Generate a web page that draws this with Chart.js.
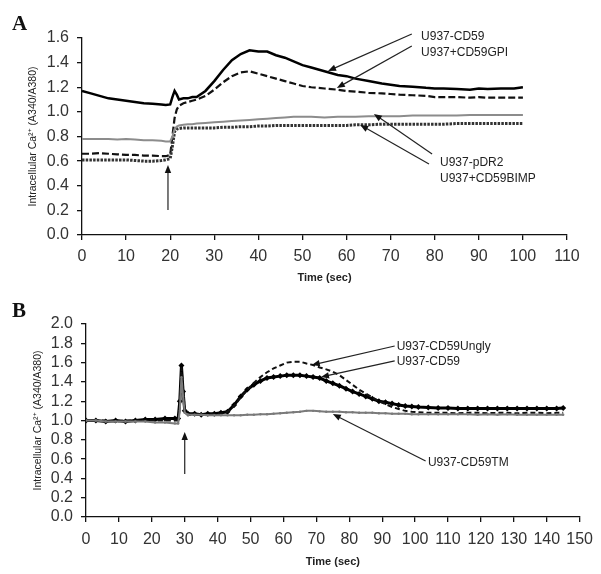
<!DOCTYPE html>
<html>
<head>
<meta charset="utf-8">
<script src="https://cdn.jsdelivr.net/npm/chart.js@4/dist/chart.umd.min.js"></script>
<style>
  html, body { margin: 0; padding: 0; background: #fff; }
  .wrap { width: 601px; height: 287px; position: relative; }
  canvas { display: block; }
</style>
</head>
<body>
<div class="wrap"><canvas id="cA" width="601" height="287"></canvas></div>
<div class="wrap"><canvas id="cB" width="601" height="287"></canvas></div>
<script>
// ---------- Panel A data ----------
const timeA = [0,2,4,6,8,10,12,14,16,18,19,20,20.5,21,21.5,22,23,24,25,26,28,30,32,34,36,38,40,42,44,46,48,50,52,55,58,60,62,65,68,70,72,75,78,80,82,85,88,90,92,95,98,100];
const a_CD59 = [1.17,1.15,1.13,1.11,1.10,1.09,1.08,1.07,1.065,1.06,1.055,1.06,1.12,1.17,1.14,1.10,1.11,1.11,1.12,1.12,1.17,1.25,1.34,1.42,1.47,1.50,1.49,1.49,1.46,1.44,1.41,1.38,1.36,1.33,1.30,1.29,1.27,1.25,1.23,1.22,1.21,1.205,1.195,1.19,1.19,1.185,1.18,1.19,1.185,1.19,1.19,1.20];
const a_CD59GPI = [0.66,0.66,0.665,0.66,0.655,0.65,0.65,0.645,0.645,0.64,0.64,0.65,0.80,0.95,1.02,1.05,1.07,1.08,1.09,1.10,1.13,1.18,1.24,1.29,1.32,1.33,1.31,1.29,1.27,1.25,1.23,1.21,1.20,1.19,1.18,1.17,1.165,1.155,1.15,1.145,1.14,1.135,1.13,1.12,1.12,1.12,1.115,1.12,1.115,1.115,1.115,1.115];
const a_pDR2 = [0.78,0.78,0.78,0.78,0.775,0.78,0.775,0.77,0.77,0.765,0.76,0.76,0.80,0.86,0.88,0.89,0.895,0.90,0.90,0.905,0.91,0.915,0.92,0.925,0.93,0.935,0.94,0.945,0.95,0.955,0.96,0.96,0.96,0.955,0.96,0.96,0.96,0.965,0.965,0.965,0.965,0.97,0.97,0.97,0.97,0.97,0.975,0.975,0.975,0.975,0.975,0.975];
const a_CD59BIMP = [0.61,0.61,0.61,0.61,0.61,0.61,0.605,0.60,0.60,0.605,0.61,0.62,0.72,0.84,0.86,0.865,0.87,0.87,0.87,0.87,0.87,0.87,0.875,0.875,0.88,0.88,0.885,0.885,0.89,0.89,0.89,0.89,0.89,0.89,0.89,0.89,0.895,0.895,0.90,0.90,0.90,0.90,0.90,0.90,0.90,0.905,0.905,0.905,0.905,0.905,0.905,0.905];

// ---------- Panel B data ----------
const timeB = [0,3,6,9,12,15,18,21,24,27,28,28.5,29,29.5,30,31,33,35,37,39,41,43,45,47,49,51,53,55,57,59,61,63,65,67,69,71,73,75,77,79,81,83,85,87,89,91,93,95,97,99,101,104,107,110,113,116,119,122,125,128,131,134,137,140,143,145];
const b_CD59 = [1.0,1.0,0.99,1.0,0.99,1.0,1.01,1.01,1.02,1.02,1.02,1.2,1.57,1.3,1.1,1.07,1.07,1.06,1.07,1.07,1.08,1.09,1.16,1.25,1.32,1.37,1.41,1.44,1.45,1.46,1.47,1.47,1.47,1.46,1.45,1.44,1.41,1.385,1.36,1.33,1.30,1.275,1.25,1.225,1.20,1.19,1.175,1.16,1.15,1.145,1.14,1.135,1.13,1.13,1.125,1.125,1.125,1.125,1.125,1.125,1.125,1.125,1.125,1.125,1.125,1.13];
const b_CD59Ungly = [1.0,1.0,1.0,0.99,1.0,1.0,1.0,1.0,1.0,1.0,1.0,1.15,1.55,1.35,1.1,1.06,1.06,1.06,1.06,1.07,1.07,1.09,1.15,1.24,1.32,1.39,1.45,1.50,1.54,1.57,1.60,1.61,1.61,1.59,1.575,1.55,1.53,1.505,1.47,1.42,1.37,1.32,1.28,1.24,1.20,1.17,1.14,1.12,1.10,1.09,1.085,1.08,1.08,1.08,1.075,1.08,1.08,1.075,1.08,1.08,1.075,1.08,1.08,1.075,1.08,1.08];
const b_CD59TM = [1.0,1.0,0.99,0.99,0.99,0.99,0.99,0.98,0.98,0.97,0.97,1.1,1.45,1.25,1.08,1.06,1.06,1.06,1.055,1.055,1.055,1.055,1.055,1.055,1.06,1.06,1.065,1.065,1.07,1.075,1.08,1.085,1.09,1.10,1.10,1.095,1.09,1.09,1.09,1.085,1.085,1.08,1.08,1.08,1.075,1.075,1.07,1.07,1.07,1.065,1.065,1.065,1.065,1.065,1.065,1.065,1.06,1.065,1.06,1.065,1.06,1.06,1.06,1.06,1.06,1.06];

// ---------- Annotations (data coordinates) ----------
const labelsA = [
  { text: 'U937-CD59',     x: 76.9, y: 1.608 },
  { text: 'U937+CD59GPI',  x: 76.9, y: 1.478 },
  { text: 'U937-pDR2',     x: 81.2, y: 0.585 },
  { text: 'U937+CD59BIMP', x: 81.2, y: 0.455 }
];
const arrowsA = [
  { x1: 74.8, y1: 1.633, x2: 55.8, y2: 1.332 },
  { x1: 74.8, y1: 1.535, x2: 57.8, y2: 1.194 },
  { x1: 79.4, y1: 0.658, x2: 66.2, y2: 0.983 },
  { x1: 78.7, y1: 0.577, x2: 63.1, y2: 0.894 },
  { x1: 19.5, y1: 0.203, x2: 19.5, y2: 0.569 }
];
const labelsB = [
  { text: 'U937-CD59Ungly', x: 94.4, y: 1.762 },
  { text: 'U937-CD59',      x: 94.4, y: 1.606 },
  { text: 'U937-CD59TM',    x: 103.9, y: 0.56 }
];
const arrowsB = [
  { x1: 93.8, y1: 1.772, x2: 68.6, y2: 1.575 },
  { x1: 93.8, y1: 1.617, x2: 71.4, y2: 1.451 },
  { x1: 103.2, y1: 0.58, x2: 75.0, y2: 1.067 },
  { x1: 30.0, y1: 0.446, x2: 30.0, y2: 0.881 }
];

const FONT = "'Liberation Sans', Arial, sans-serif";
const pts = (xs, ys) => xs.map((x, i) => ({ x: x, y: ys[i] }));

function annotPlugin(letter, labels, arrows) {
  return {
    id: 'annot' + letter,
    afterDraw(chart) {
      const ctx = chart.ctx, sx = chart.scales.x, sy = chart.scales.y;
      ctx.save();
      ctx.fillStyle = '#111';
      ctx.font = "bold 21px 'Liberation Serif', 'Times New Roman', serif";
      ctx.textBaseline = 'alphabetic';
      ctx.textAlign = 'left';
      ctx.fillText(letter, 12, 30);
      ctx.strokeStyle = '#222';
      ctx.fillStyle = '#111';
      ctx.lineWidth = 1.2;
      arrows.forEach(a => {
        const x1 = sx.getPixelForValue(a.x1), y1 = sy.getPixelForValue(a.y1);
        const x2 = sx.getPixelForValue(a.x2), y2 = sy.getPixelForValue(a.y2);
        const ang = Math.atan2(y2 - y1, x2 - x1);
        const L = 8, W = 3.2;
        ctx.beginPath();
        ctx.moveTo(x1, y1);
        ctx.lineTo(x2 - Math.cos(ang) * L * 0.8, y2 - Math.sin(ang) * L * 0.8);
        ctx.stroke();
        ctx.beginPath();
        ctx.moveTo(x2, y2);
        ctx.lineTo(x2 - Math.cos(ang) * L - Math.sin(ang) * W, y2 - Math.sin(ang) * L + Math.cos(ang) * W);
        ctx.lineTo(x2 - Math.cos(ang) * L + Math.sin(ang) * W, y2 - Math.sin(ang) * L - Math.cos(ang) * W);
        ctx.closePath();
        ctx.fill();
      });
      ctx.fillStyle = '#222';
      ctx.font = '12px ' + FONT;
      ctx.textBaseline = 'middle';
      labels.forEach(l => {
        ctx.fillText(l.text, sx.getPixelForValue(l.x), sy.getPixelForValue(l.y));
      });
      ctx.restore();
    }
  };
}

function axes(xmax, ymax, yWidth, xHeight, yTitlePad, xTitlePad, xTickPad) {
  const tickFont = { family: FONT, size: 16 };
  return {
    x: {
      type: 'linear', min: 0, max: xmax,
      afterFit: s => { s.height = xHeight; },
      ticks: { stepSize: 10, font: tickFont, color: '#333', padding: xTickPad, maxRotation: 0, autoSkip: false },
      grid: { drawOnChartArea: false, drawTicks: true, tickLength: 5, color: '#111', lineWidth: 1.3 },
      border: { display: true, color: '#111', width: 1.3 },
      title: { display: true, text: 'Time (sec)', font: { family: FONT, size: 11, weight: 'bold' }, color: '#222', padding: { top: 0, bottom: xTitlePad } }
    },
    y: {
      type: 'linear', min: 0, max: ymax,
      afterFit: s => { s.width = yWidth; },
      ticks: { stepSize: 0.2, font: tickFont, color: '#333', padding: 8, autoSkip: false, callback: v => v.toFixed(1) },
      grid: { drawOnChartArea: false, drawTicks: true, tickLength: 5, color: '#111', lineWidth: 1.3 },
      border: { display: true, color: '#111', width: 1.3 },
      title: { display: true, text: 'Intracellular Ca\u00B2\u207A (A340/A380)', font: { family: FONT, size: 10.5 }, color: '#222', padding: { top: yTitlePad, bottom: 0 } }
    }
  };
}

const common = {
  responsive: false,
  animation: false,
  devicePixelRatio: 1,
  plugins: { legend: { display: false }, tooltip: { enabled: false } },
  elements: { line: { tension: 0 } }
};

new Chart(document.getElementById('cA'), {
  type: 'line',
  data: {
    datasets: [
      { label: 'U937-pDR2', data: pts(timeA, a_pDR2), borderColor: '#8c8c8c', borderWidth: 2, pointRadius: 0 },
      { label: 'U937+CD59BIMP', data: pts(timeA, a_CD59BIMP), borderColor: '#333', borderWidth: 3, borderDash: [2.5, 1.2], pointRadius: 0 },
      { label: 'U937+CD59GPI', data: pts(timeA, a_CD59GPI), borderColor: '#111', borderWidth: 2.2, borderDash: [7, 3], pointRadius: 0 },
      { label: 'U937-CD59', data: pts(timeA, a_CD59), borderColor: '#000', borderWidth: 2.5, pointRadius: 0 }
    ]
  },
  options: Object.assign({}, common, {
    layout: { padding: { left: 0, right: 34, top: 38, bottom: 0 } },
    scales: axes(110, 1.6, 82, 52, 27, 2.4, 7)
  }),
  plugins: [annotPlugin('A', labelsA, arrowsA)]
});

new Chart(document.getElementById('cB'), {
  type: 'line',
  data: {
    datasets: [
      { label: 'U937-CD59TM', data: pts(timeB, b_CD59TM), borderColor: '#7a7a7a', borderWidth: 2, pointRadius: 1.2, pointBackgroundColor: '#7a7a7a', pointBorderWidth: 0 },
      { label: 'U937-CD59Ungly', data: pts(timeB, b_CD59Ungly), borderColor: '#111', borderWidth: 2, borderDash: [5, 3], pointRadius: 0 },
      { label: 'U937-CD59', data: pts(timeB, b_CD59), borderColor: '#000', borderWidth: 3, pointRadius: 3, pointStyle: 'rectRot', pointBackgroundColor: '#000', pointBorderWidth: 0 }
    ]
  },
  options: Object.assign({}, common, {
    layout: { padding: { left: 0, right: 21, top: 37, bottom: 0 } },
    scales: axes(150, 2.0, 86, 57, 32, 5.4, 8)
  }),
  plugins: [annotPlugin('B', labelsB, arrowsB)]
});
</script>
</body>
</html>
